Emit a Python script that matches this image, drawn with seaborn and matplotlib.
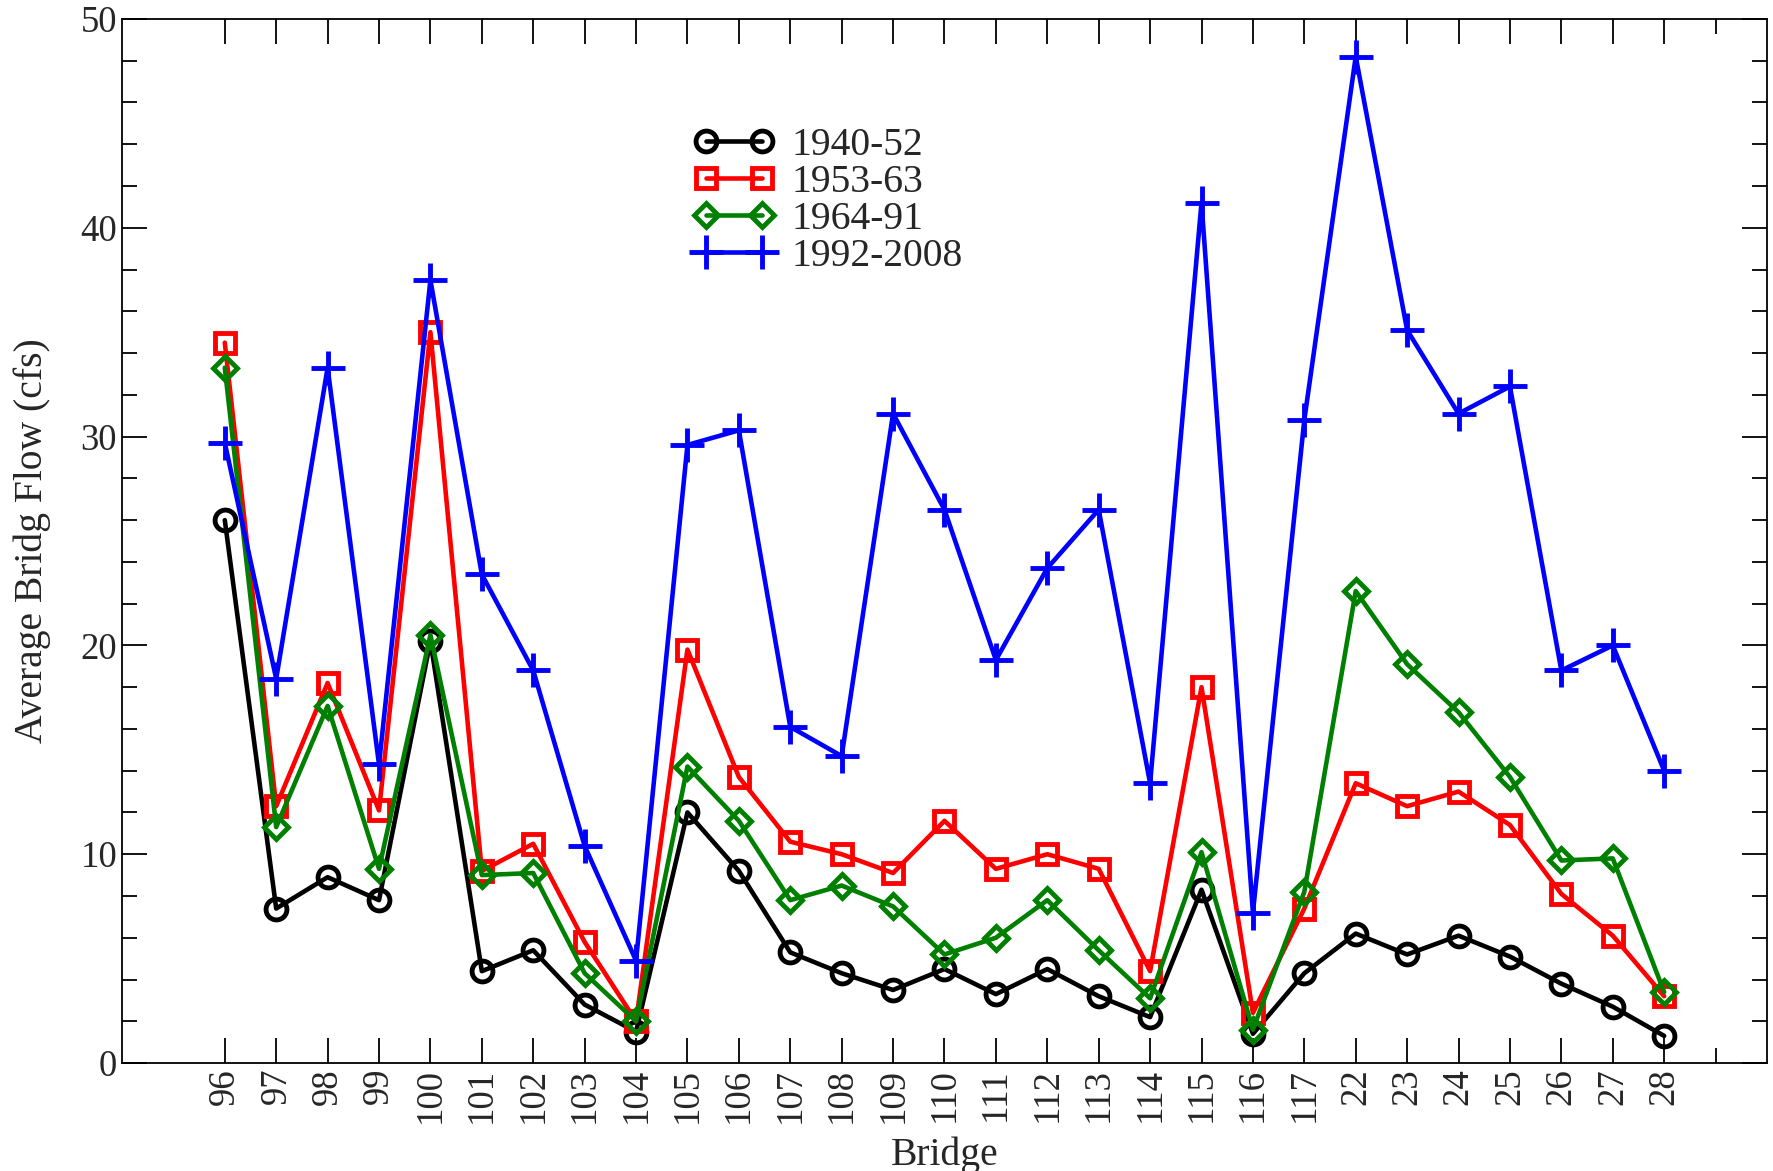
import numpy as np
import pandas as pd
import matplotlib
matplotlib.use("Agg")
import matplotlib.pyplot as plt
from matplotlib.ticker import MultipleLocator, FixedLocator
import seaborn as sns

# Bridge labels along the x axis
bridges = ['96', '97', '98', '99', '100', '101', '102', '103', '104', '105',
           '106', '107', '108', '109', '110', '111', '112', '113', '114', '115',
           '116', '117', '22', '23', '24', '25', '26', '27', '28']

# Average bridge flow (cfs) for each period
flow_1940_52 = [26.0, 7.4, 8.9, 7.8, 20.2, 4.4, 5.4, 2.8, 1.5, 12.0,
                9.2, 5.3, 4.3, 3.5, 4.5, 3.3, 4.5, 3.2, 2.2, 8.3,
                1.4, 4.3, 6.2, 5.2, 6.1, 5.1, 3.8, 2.7, 1.3]
flow_1953_63 = [34.5, 12.3, 18.2, 12.1, 35.0, 9.2, 10.5, 5.8, 2.0, 19.8,
                13.7, 10.6, 10.0, 9.1, 11.6, 9.3, 10.0, 9.3, 4.4, 18.0,
                2.4, 7.4, 13.4, 12.3, 13.0, 11.4, 8.1, 6.1, 3.2]
flow_1964_91 = [33.3, 11.3, 17.1, 9.3, 20.5, 9.0, 9.1, 4.3, 2.0, 14.2,
                11.6, 7.8, 8.5, 7.5, 5.2, 6.0, 7.8, 5.4, 3.1, 10.1,
                1.6, 8.2, 22.6, 19.1, 16.8, 13.7, 9.7, 9.8, 3.4]
flow_1992_2008 = [29.7, 18.4, 33.3, 14.3, 37.5, 23.4, 18.8, 10.4, 4.9, 29.6,
                  30.3, 16.1, 14.7, 31.1, 26.5, 19.3, 23.7, 26.5, 13.4, 41.2,
                  7.2, 30.8, 48.2, 35.1, 31.1, 32.4, 18.8, 20.0, 14.0]

periods = ['1940-52', '1953-63', '1964-91', '1992-2008']
colors = ['black', 'red', 'green', 'blue']
markers = ['o', 's', 'D', '+']
sizes = [15, 14, 12, 24]

sns.set_theme(style='ticks')
plt.rcParams['font.family'] = ['Liberation Serif', 'DejaVu Serif']

fig = plt.figure(figsize=(17.73, 11.71), dpi=100)
ax = fig.add_axes([0.0688, 0.0922, 0.9278, 0.8916])

xpos = np.arange(len(bridges)) + 2
series = [flow_1940_52, flow_1953_63, flow_1964_91, flow_1992_2008]
for vals, name, c, m, ms in zip(series, periods, colors, markers, sizes):
    sns.lineplot(x=xpos, y=vals, color=c, marker=m, markersize=ms,
                 markerfacecolor='none', markeredgecolor=c, markeredgewidth=3.5,
                 linewidth=3.3, label=name, ax=ax)

ax.set_xlim(0, 32)
ax.set_ylim(0, 50)
ax.set_xticks(xpos)
ax.set_xticklabels(bridges, rotation=90, fontsize=26.5)
ax.xaxis.set_minor_locator(FixedLocator([31]))
ax.yaxis.set_major_locator(MultipleLocator(10))
ax.yaxis.set_minor_locator(MultipleLocator(2))
ax.tick_params(axis='y', labelsize=26.5)
ax.tick_params(which='both', direction='in', top=True, right=True,
               width=1.3, color='black')
ax.tick_params(which='major', length=18)
ax.tick_params(which='minor', length=11)
for s in ax.spines.values():
    s.set_linewidth(1.3)
    s.set_color('black')

ax.set_xlabel('Bridge', fontsize=28.5)
ax.xaxis.set_label_coords(0.5, -0.07)
ax.set_ylabel('Average Bridg Flow (cfs)', fontsize=28.5)
ax.yaxis.set_label_coords(-0.043, 0.5)

ax.legend(loc='upper left', bbox_to_anchor=(0.348, 0.8966), frameon=False,
          fontsize=28.5, numpoints=2, handlelength=2.0, handletextpad=0.44,
          labelspacing=0.0, borderpad=0, borderaxespad=0)

fig.savefig('out.png', dpi=100)
